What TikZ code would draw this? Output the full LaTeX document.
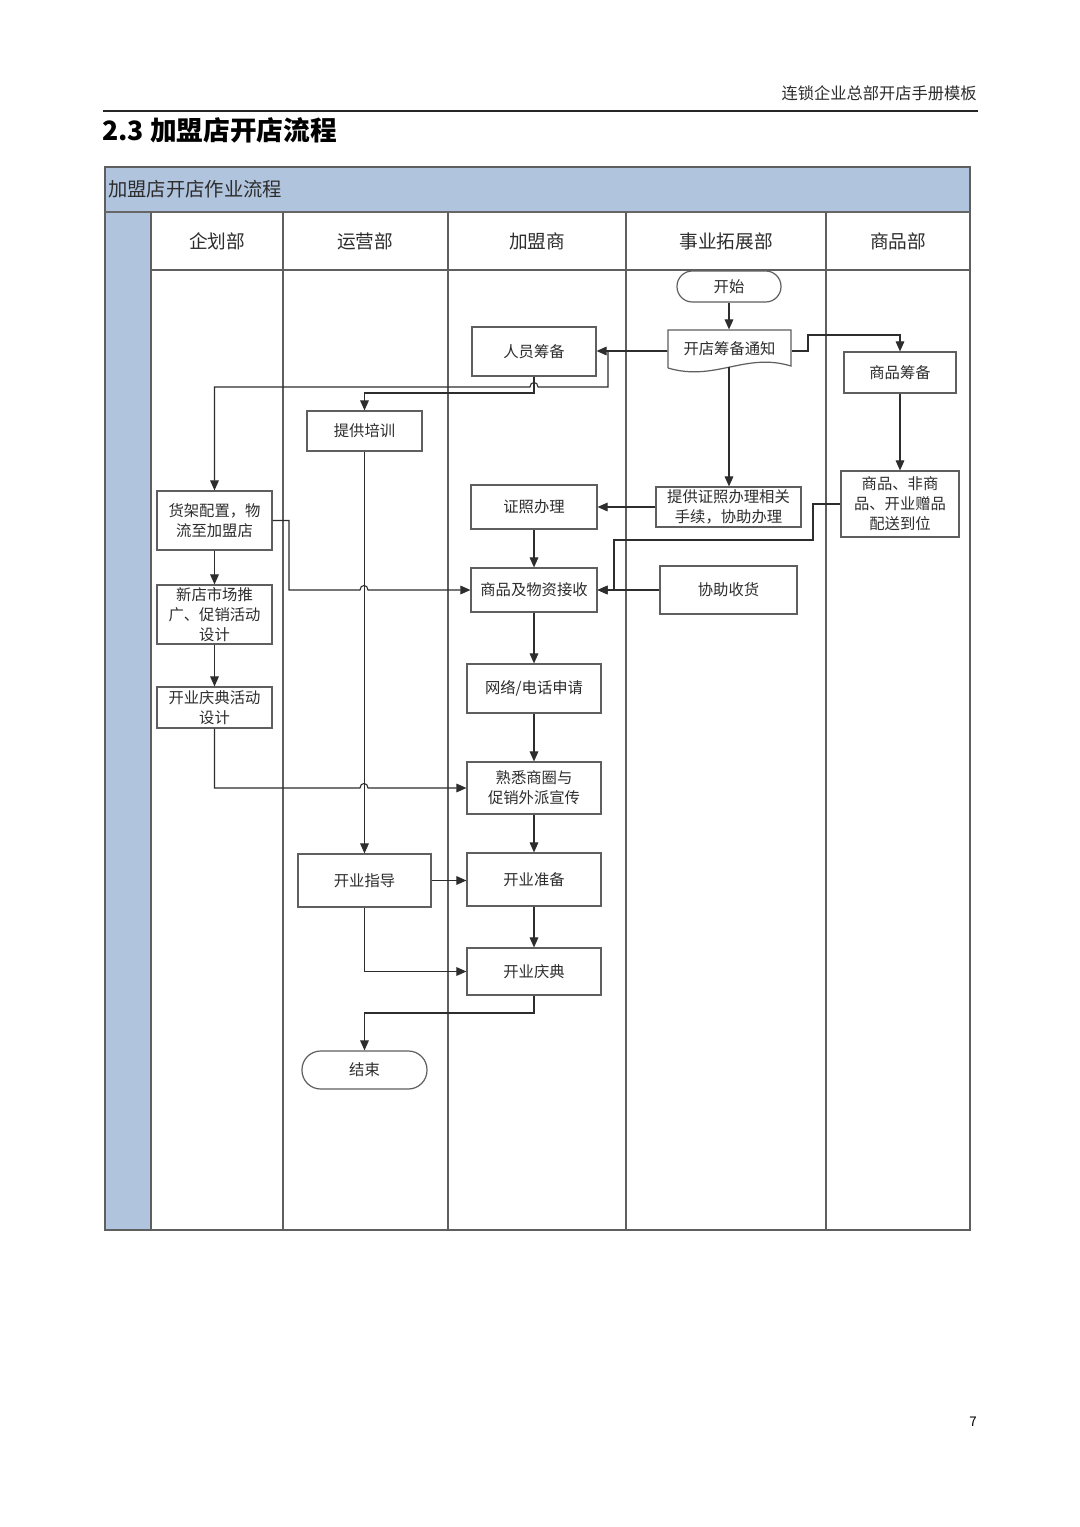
\documentclass[tikz,border=0pt]{standalone}
\usepackage{fontspec}
\setmainfont{Noto Sans CJK SC}
\usetikzlibrary{arrows.meta}
\definecolor{lanebl}{RGB}{176,196,222}
\definecolor{ink}{RGB}{45,45,45}
\definecolor{edgec}{RGB}{95,95,95}
\newcommand\mybox[7][box]{\node[#1, minimum width={(#5-#3)*0.75pt}, minimum height={(#6-#4)*0.75pt}] (#2) at ({(#3+#5)/2},{(#4+#6)/2}) {#7};}
\begin{document}
\begin{tikzpicture}[x=0.75pt,y=-0.75pt,
  box/.style={draw=edgec, fill=white, line width=0.9pt, rectangle, inner sep=0pt, align=center, text=ink, font=\fontsize{11.5}{15}\selectfont},
  term/.style={box, rounded corners=#1},
  arr/.style={draw=ink, line width=0.8pt, -{Triangle[length=7.5pt,width=6.5pt]}},
  lanet/.style={text=ink, font=\fontsize{14}{16}\selectfont},
  grid/.style={draw=edgec, line width=0.8pt}]
\useasboundingbox[fill=white] (0,0) rectangle (1080,1527);

% page header
\node[anchor=east, inner sep=0pt, text=ink, font=\fontsize{12.2}{14}\selectfont] (hdr) at (977,93) {连锁企业总部开店手册模板};
\draw[line width=1.5pt, draw=black!85] (103,111) -- (978,111);
\node[anchor=west, inner sep=0pt, text=black, font=\fontsize{20}{24}\selectfont\bfseries] (title) at (102,130) {2.3 加盟店开店流程};

% table
\fill[lanebl] (105,167) rectangle (970,212);
\fill[lanebl] (105,212) rectangle (151,1230);
\node[anchor=west, inner sep=0pt, text=ink, font=\fontsize{14.5}{16}\selectfont] (tabtitle) at (108,189) {加盟店开店作业流程};
\draw[grid] (105,167) rectangle (970,1230);
\draw[line width=2pt, draw=black!60] (105,212) -- (970,212);
\foreach \xx in {151,283,448,626,826} {\draw[grid] (\xx,212) -- (\xx,1230);}
\draw[grid] (151,270) -- (970,270);
\node[lanet] (l1) at (217,241) {企划部};
\node[lanet] (l2) at (365,241) {运营部};
\node[lanet] (l3) at (537,241) {加盟商};
\node[lanet] (l4) at (726,241) {事业拓展部};
\node[lanet] (l5) at (898,241) {商品部};

% nodes
\mybox[term=11.5pt]{start}{677}{271}{781}{302}{开始}
\node[box, draw=none, fill=none, minimum width={(791-668)*0.75pt}, minimum height={42*0.75pt}] (notice) at (729.5,351) {\raisebox{4pt}{开店筹备通知}};
\draw[draw=edgec, line width=0.9pt] (668,368) -- (668,330) -- (791,330) -- (791,366) .. controls (745,352) and (715,382) .. (668,368);
\coordinate (noticeb) at (729,367);
\mybox{staff}{472}{327}{596}{376}{人员筹备}
\mybox{goods}{844}{352}{956}{393}{商品筹备}
\mybox{train}{307}{411}{422}{451}{提供培训}
\mybox{shelf}{157}{491}{272}{550}{货架配置，物\\流至加盟店}
\mybox{lic}{471}{485}{597}{529}{证照办理}
\mybox{lic2}{656}{487}{801}{527}{提供证照办理相关\\手续，协助办理}
\mybox{deliver}{841}{471}{959}{537}{商品、非商\\品、开业赠品\\配送到位}
\mybox{promo}{157}{585}{272}{644}{新店市场推\\广、促销活动\\设计}
\mybox{recv}{471}{568}{597}{612}{商品及物资接收}
\mybox{assist}{660}{566}{797}{614}{协助收货}
\mybox{cele}{157}{687}{272}{728}{开业庆典活动\\设计}
\mybox{net}{467}{664}{601}{713}{网络/电话申请}
\mybox{area}{467}{762}{601}{814}{熟悉商圈与\\促销外派宣传}
\mybox{guide}{298}{854}{431}{907}{开业指导}
\mybox{prep}{467}{853}{601}{906}{开业准备}
\mybox{open}{467}{948}{601}{995}{开业庆典}
\mybox[term=14pt]{end}{302}{1051}{427}{1089}{结束}

% connectors
\draw[arr] (start.south) -- (start.south |- notice.north);
\draw[arr] (notice.west) -- (staff.east |- notice.west);
\draw[arr] (notice.west) -- (608,351) -- (608,387) -- (538,387) .. controls (538,381) and (530,381) .. (530,387) -- (shelf.north |- 0,387) -- (shelf.north);
\draw[arr] (staff.south) -- (staff.south |- 0,393) -- (train.north |- 0,393) -- (train.north);
\draw[arr] (notice.east) -- (808,351) -- (808,335) -- (goods.north |- 0,335) -- (goods.north);
\draw[arr] (noticeb) -- (noticeb |- lic2.north);
\draw[arr] (goods.south) -- (deliver.north);
\draw[arr] (lic2.west) -- (lic.east |- lic2.west);
\draw[arr] (deliver.west) -- (813,504) -- (813,540) -- (614,540) -- (614,590) -- (recv.east);
\draw[arr] (assist.west) -- (recv.east);
\draw[arr] (lic.south) -- (recv.north);
\draw[arr] (shelf.east) -- (289,520.5) -- (289,590) -- (360,590) .. controls (360,584) and (368,584) .. (368,590) -- (recv.west);
\draw[arr] (shelf.south) -- (promo.north);
\draw[arr] (promo.south) -- (cele.north);
\draw[arr] (cele.south) -- (214.5,788) -- (360,788) .. controls (360,782) and (368,782) .. (368,788) -- (area.west);
\draw[arr] (recv.south) -- (net.north);
\draw[arr] (net.south) -- (area.north);
\draw[arr] (area.south) -- (prep.north);
\draw[arr] (train.south) -- (guide.north);
\draw[arr] (guide.east) -- (guide.east -| prep.west);
\draw[arr] (guide.south) -- (guide.south |- open.west) -- (open.west);
\draw[arr] (prep.south) -- (open.north);
\draw[arr] (open.south) -- (534,1013) -- (end.north |- 0,1013) -- (end.north);

% page number
\node[inner sep=0pt, text=black, font=\fontsize{10}{12}\selectfont] (pg) at (973,1422) {7};
\end{tikzpicture}
\end{document}
